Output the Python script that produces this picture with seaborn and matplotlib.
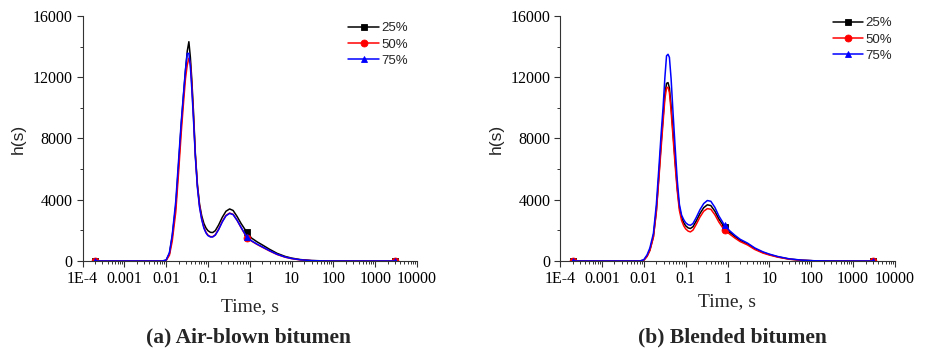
import matplotlib
matplotlib.use("Agg")
import matplotlib.pyplot as plt
import pandas as pd
import seaborn as sns
from matplotlib.ticker import FixedLocator, FixedFormatter, LogLocator, MultipleLocator, NullFormatter

# Relaxation time grid (s)
time_s = [2e-4, 1e-3, 4e-3, 0.008, 0.01, 0.012, 0.014, 0.017, 0.02, 0.023,
          0.026, 0.029, 0.032, 0.035, 0.038, 0.041, 0.045, 0.05, 0.056, 0.063,
          0.071, 0.08, 0.09, 0.1, 0.115, 0.13, 0.15, 0.18, 0.22, 0.27,
          0.33, 0.4, 0.5, 0.62, 0.85, 1.1, 1.5, 2.0, 3.0, 4.5,
          7, 10, 16, 30, 60, 120, 300, 1000, 3000]

# Relaxation spectra h(s), air-blown bitumen
air_25 = [0, 0, 0, 0, 50, 480, 1600, 3600, 6400, 8900,
          10800, 12400, 13700, 14320, 13300, 11900, 9800, 7000, 5000, 3700,
          2950, 2450, 2150, 1980, 1870, 1860, 1980, 2350, 2850, 3250,
          3400, 3300, 2900, 2450, 1880, 1500, 1250, 1050, 760, 500,
          300, 190, 95, 30, 8, 2, 0, 0, 0]
air_50 = [0, 0, 0, 0, 30, 380, 1300, 3200, 5900, 8400,
          10300, 11900, 12800, 13240, 12900, 11600, 9500, 6900, 4900, 3600,
          2750, 2200, 1870, 1690, 1590, 1590, 1710, 2080, 2580, 2980,
          3130, 3050, 2650, 2180, 1530, 1300, 1080, 900, 650, 425,
          250, 155, 75, 22, 5, 1, 0, 0, 0]
air_75 = [0, 0, 0, 0, 60, 550, 1700, 3900, 6700, 9100,
          10900, 12500, 13550, 13560, 12700, 11300, 9300, 6800, 4800, 3500,
          2700, 2150, 1830, 1660, 1570, 1570, 1690, 2050, 2550, 2950,
          3110, 3030, 2650, 2200, 1560, 1320, 1100, 920, 670, 440,
          260, 165, 80, 25, 6, 1, 0, 0, 0]

# Relaxation spectra h(s), blended bitumen
blend_25 = [0, 0, 0, 0, 50, 320, 720, 1600, 3300, 5600,
            7700, 9400, 10900, 11600, 11650, 11300, 10100, 8400, 6600, 4800,
            3500, 2850, 2500, 2300, 2160, 2120, 2240, 2620, 3100, 3480,
            3670, 3620, 3250, 2750, 2200, 1900, 1600, 1350, 1110, 800,
            560, 420, 270, 125, 50, 12, 1, 0, 0]
blend_50 = [0, 0, 0, 0, 40, 300, 680, 1550, 3200, 5400,
            7400, 9100, 10600, 11300, 11350, 11000, 9800, 8100, 6300, 4600,
            3300, 2650, 2300, 2100, 1950, 1900, 2020, 2400, 2870, 3250,
            3420, 3380, 3020, 2550, 2000, 1780, 1500, 1270, 1050, 750,
            520, 390, 250, 115, 45, 10, 1, 0, 0]
blend_75 = [0, 0, 0, 0, 80, 400, 850, 1800, 3700, 6100,
            8300, 10060, 12000, 13400, 13500, 13300, 11900, 9700, 7500, 5300,
            3700, 3000, 2700, 2500, 2370, 2330, 2450, 2850, 3350, 3750,
            3950, 3900, 3500, 2950, 2330, 2000, 1680, 1420, 1170, 850,
            600, 450, 290, 140, 55, 15, 2, 0, 0]

series_labels = ["25%", "50%", "75%"]
x_ticks = [1e-4, 1e-3, 1e-2, 1e-1, 1, 10, 100, 1000, 10000]
x_tick_labels = ["1E-4", "0.001", "0.01", "0.1", "1", "10", "100", "1000", "10000"]
y_ticks = [0, 4000, 8000, 12000, 16000]
panel_titles = ["(a) Air-blown bitumen", "(b) Blended bitumen"]

line_colors = ["#000000", "#ff0000", "#0000ff"]
line_markers = ["s", "o", "^"]
marked_points = [0, time_s.index(0.85), len(time_s) - 1]

sns.set_style("ticks")
plt.rcParams["font.family"] = ["Liberation Serif", "DejaVu Serif"]
plt.rcParams["axes.edgecolor"] = "#333333"
plt.rcParams["xtick.color"] = "#333333"
plt.rcParams["ytick.color"] = "#333333"
plt.rcParams["xtick.labelcolor"] = "black"
plt.rcParams["ytick.labelcolor"] = "black"

fig = plt.figure(figsize=(9.26, 3.49), dpi=100)
ax_a = fig.add_axes([82.5 / 926, 1 - 261 / 349, (417 - 82.5) / 926, 245 / 349])
ax_b = fig.add_axes([560 / 926, 1 - 261 / 349, (895 - 560) / 926, 245 / 349])


def draw_panel(ax, curves, legend_anchor, xlabel_pad):
    ax.set_xscale("log")
    frame = pd.DataFrame({
        "time": time_s * len(curves),
        "h": [v for c in curves for v in c],
        "grade": [lab for lab in series_labels for _ in time_s],
    })
    for lab, col, mk in zip(series_labels, line_colors, line_markers):
        sns.lineplot(data=frame[frame["grade"] == lab], x="time", y="h",
                     estimator=None, sort=False, ax=ax, label=lab,
                     color=col, linewidth=1.1, marker=mk, markersize=5,
                     markeredgecolor=col, markeredgewidth=0.6,
                     markevery=marked_points)
    ax.set_xlim(1e-4, 1e4)
    ax.set_ylim(0, 16000)
    ax.xaxis.set_major_locator(FixedLocator(x_ticks))
    ax.xaxis.set_major_formatter(FixedFormatter(x_tick_labels))
    ax.xaxis.set_minor_locator(LogLocator(base=10, subs=range(2, 10), numticks=20))
    ax.xaxis.set_minor_formatter(NullFormatter())
    ax.yaxis.set_major_locator(FixedLocator(y_ticks))
    ax.yaxis.set_minor_locator(MultipleLocator(2000))
    ax.tick_params(which="major", direction="out", length=4.5, width=0.8,
                   labelsize=11.5, pad=2.5)
    ax.tick_params(which="minor", direction="out", length=2.5, width=0.7)
    for side in ("top", "right"):
        ax.spines[side].set_visible(False)
    for side in ("left", "bottom"):
        ax.spines[side].set_linewidth(0.8)
    ax.set_xlabel("Time, s", fontsize=14, labelpad=xlabel_pad)
    ax.set_ylabel("h(s)", fontsize=12.5, family=["Liberation Sans", "DejaVu Sans"],
                  labelpad=5)
    ax.legend(loc="upper left", bbox_to_anchor=legend_anchor, frameon=False,
              prop={"family": ["Liberation Sans", "DejaVu Sans"], "size": 9.5},
              handlelength=2.3, handletextpad=0.2, labelspacing=0.3,
              borderpad=0, borderaxespad=0)


draw_panel(ax_a, [air_25, air_50, air_75], (0.795, 0.975), 8)
draw_panel(ax_b, [blend_25, blend_50, blend_75], (0.814, 0.995), 4.5)

fig.text(248 / 926, 1 - 337 / 349, panel_titles[0], ha="center", va="center",
         fontsize=15.5, fontweight="bold")
fig.text(732 / 926, 1 - 337 / 349, panel_titles[1], ha="center", va="center",
         fontsize=15.5, fontweight="bold")

fig.savefig("out.png", dpi=100)
